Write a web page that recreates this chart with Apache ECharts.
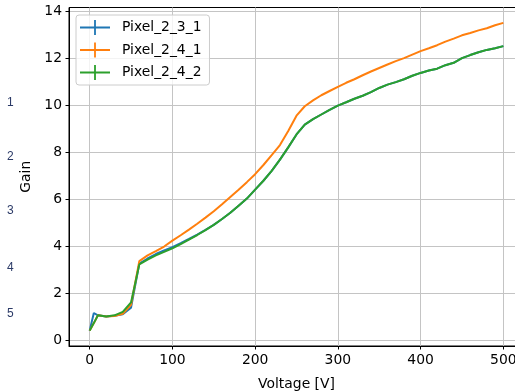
<!DOCTYPE html>
<html>
<head>
<meta charset="utf-8">
<script src="https://cdn.jsdelivr.net/npm/echarts@6/dist/echarts.min.js"></script>
<style>
html,body{margin:0;padding:0;background:#fff;}
#c{width:515px;height:391px;}
</style>
</head>
<body>
<div id="c"></div>
<script>
// ---- data ----
const voltages = [0,5,10,20,30,40,50,60,70,80,90,100,110,120,130,140,150,160,170,180,190,200,
  210,220,230,240,250,260,270,280,290,300,310,320,330,340,350,360,370,380,390,400,
  410,420,430,440,450,460,470,480,490,500];
const gainPixel_2_3_1 = [0.40,1.15,1.05,1.00,1.03,1.10,1.38,3.25,3.47,3.66,3.81,3.95,4.12,4.30,4.49,4.69,4.90,5.15,5.42,5.72,6.02,6.40,
  6.78,7.20,7.68,8.20,8.75,9.17,9.40,9.60,9.80,9.98,10.12,10.27,10.40,10.55,10.73,10.87,10.98,11.10,11.25,11.37,
  11.47,11.55,11.70,11.80,12.00,12.13,12.25,12.35,12.42,12.51];
const gainPixel_2_4_1 = [0.40,0.72,1.05,1.00,1.02,1.12,1.50,3.36,3.60,3.78,3.98,4.23,4.46,4.70,4.95,5.21,5.48,5.78,6.09,6.40,6.72,7.06,
  7.45,7.87,8.30,8.90,9.55,9.95,10.20,10.42,10.60,10.78,10.95,11.10,11.27,11.43,11.58,11.73,11.87,12.00,12.15,12.30,
  12.42,12.55,12.70,12.83,12.97,13.07,13.18,13.27,13.40,13.50];
const gainPixel_2_4_2 = [0.40,0.72,1.05,1.00,1.05,1.20,1.60,3.22,3.42,3.60,3.75,3.90,4.08,4.27,4.47,4.68,4.90,5.15,5.42,5.72,6.02,6.40,
  6.78,7.20,7.68,8.20,8.75,9.17,9.40,9.60,9.80,9.98,10.12,10.27,10.40,10.55,10.73,10.87,10.98,11.10,11.25,11.37,
  11.47,11.55,11.70,11.80,12.00,12.13,12.25,12.35,12.42,12.51];
const seriesNames = ['Pixel_2_3_1','Pixel_2_4_1','Pixel_2_4_2'];
const xTicks = [0,100,200,300,400,500];
const yTicks = [0,2,4,6,8,10,12,14];
const sideLabels = ['1','2','3','4','5'];
// ---------------------------------------

const colors = ['#1f77b4','#ff7f0e','#2ca02c'];
const gains = [gainPixel_2_3_1, gainPixel_2_4_1, gainPixel_2_4_2];
const font = 'DejaVu Sans';
const icon = 'path://M0,6.6L30,6.6L30,8.4L0,8.4Z M14.1,0L15.9,0L15.9,15L14.1,15Z';

const chart = echarts.init(document.getElementById('c'), null, {renderer:'canvas'});
const sidePos = [104, 158, 212, 269, 315];
chart.setOption({
  animation: false,
  backgroundColor: '#fff',
  grid: {left: 69, top: 7.5, width: 455, height: 338.5, show: true, borderColor: '#000', borderWidth: 1,
         backgroundColor: 'transparent', containLabel: false, outerBoundsMode: 'none'},
  legend: {
    orient: 'vertical', left: 76, top: 15,
    itemWidth: 30, itemHeight: 15, itemGap: 7.5, itemTextGap: 12,
    padding: [5, 8, 5, 4],
    borderColor: '#cccccc', borderWidth: 1, borderRadius: 3,
    backgroundColor: 'rgba(255,255,255,0.8)',
    textStyle: {fontFamily: font, fontSize: 13.9, color: '#000', padding: [0, 0, 0, 7]},
    data: seriesNames.map(n => ({name: n, icon: icon}))
  },
  xAxis: {
    type: 'value', min: -25, max: 525,
    name: 'Voltage [V]', nameLocation: 'middle', nameGap: 31,
    nameTextStyle: {fontFamily: font, fontSize: 13.9, color: '#000'},
    axisLine: {show: true, onZero: false, lineStyle: {color: '#000', width: 1}},
    axisTick: {show: true, length: 3.5, customValues: xTicks, lineStyle: {color: '#000'}},
    axisLabel: {customValues: xTicks, fontFamily: font, fontSize: 13.9, color: '#000', margin: 7},
    splitLine: {show: true, lineStyle: {color: '#c4c4c4', width: 1}}
  },
  yAxis: {
    type: 'value', min: -0.255, max: 14.155,
    name: 'Gain', nameLocation: 'middle', nameGap: 28,
    nameTextStyle: {fontFamily: font, fontSize: 13.9, color: '#000'},
    axisLine: {show: true, onZero: false, lineStyle: {color: '#000', width: 1}},
    axisTick: {show: true, length: 3.5, customValues: yTicks, lineStyle: {color: '#000'}},
    axisLabel: {customValues: yTicks, fontFamily: font, fontSize: 13.9, color: '#000', margin: 7},
    splitLine: {show: true, lineStyle: {color: '#c4c4c4', width: 1}}
  },
  graphic: sideLabels.map((t, i) => ({
    type: 'text', left: 7, top: sidePos[i] - 7,
    style: {text: t, fontFamily: 'Liberation Sans', fontSize: 12, fill: '#2b3a67'}
  })),
  series: seriesNames.map((n, i) => ({
    name: n, type: 'line', showSymbol: false, symbol: 'none',
    color: colors[i],
    lineStyle: {color: colors[i], width: 2},
    itemStyle: {color: colors[i]},
    data: voltages.map((v, k) => [v, gains[i][k]]),
    z: 2 + i
  }))
});
</script>
</body>
</html>
